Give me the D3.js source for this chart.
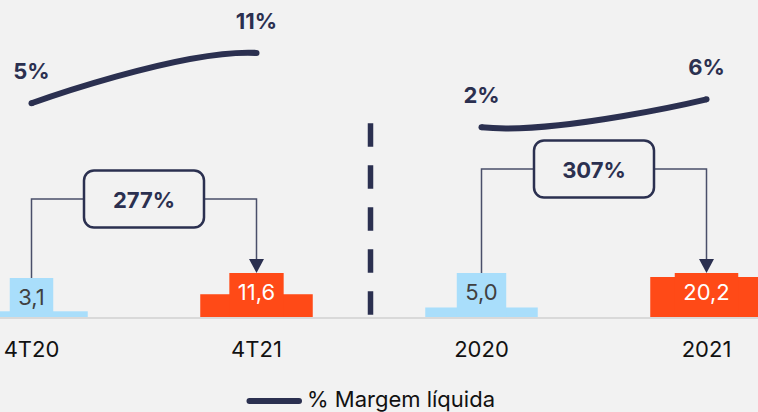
<!DOCTYPE html>
<html>
<head>
<meta charset="utf-8">
<script src="https://cdn.jsdelivr.net/npm/d3@7"></script>
<style>
  body { margin: 0; background: #f2f2f2; }
  svg { display: block; font-family: Inter, 'Noto Sans', sans-serif; }
</style>
</head>
<body>
<svg id="chart" width="758" height="412"></svg>
<script>
const categories = ['4T20', '4T21', '2020', '2021']
const revenue = [3.1, 11.6, 5.0, 20.2]
const barLabels = ['3,1', '11,6', '5,0', '20,2']
const margin = [5.0, 11.3, 2.0, 5.5]
const growthFrom = ['4T20', '2020']
const growthTo = ['4T21', '2021']
const growthLabels = ['277%', '307%']

const navy = '#2b3050'
const colors = ['#a9defb', '#ff4a17', '#a9defb', '#ff4a17']
const textColors = ['#404040', '#ffffff', '#404040', '#ffffff']

let svg = d3.select('#chart')
svg.append('rect').attr('width', 758).attr('height', 412).attr('fill', '#f2f2f2')

let x = d3.scaleBand()
	.domain(categories)
	.range([-81, 819])
	.paddingInner(0.5)
	.paddingOuter(0.25)
let cx = c => x(c) + x.bandwidth() / 2

let baseY = 317.5
let y = d3.scaleLinear().domain([0, 20.2]).range([baseY, 277])
let yPct = d3.scaleLinear().domain([0, 12]).range([143.3, 47.3])

// bars
svg.selectAll('.bar')
	.data(categories)
	.join('rect')
	.attr('class', 'bar')
	.attr('x', d => x(d))
	.attr('width', x.bandwidth())
	.attr('y', (d, i) => y(revenue[i]))
	.attr('height', (d, i) => baseY - y(revenue[i]))
	.attr('fill', (d, i) => colors[i])

// axis
let axis = svg.append('g')
	.attr('transform', `translate(0,${baseY})`)
	.call(d3.axisBottom(x).tickSize(0).tickSizeOuter(0).tickPadding(24))
axis.select('.domain').attr('stroke', '#d9d9d9').attr('stroke-width', 2)
axis.selectAll('text')
	.attr('font-size', 22)
	.attr('fill', '#111')
	.attr('font-family', 'Inter, sans-serif')

// value labels with bar-coloured backgrounds
let labelTop = i => i === 0 ? 278 : 273
categories.forEach((c, i) => {
	let g = svg.append('g')
	let t = g.append('text')
		.attr('x', cx(c))
		.attr('y', labelTop(i) + 26.5)
		.attr('text-anchor', 'middle')
		.attr('font-size', 22)
		.attr('fill', textColors[i])
		.text(barLabels[i])
	let w = t.node().getComputedTextLength() + 17
	g.insert('rect', 'text')
		.attr('x', cx(c) - w / 2)
		.attr('y', labelTop(i))
		.attr('width', w)
		.attr('height', baseY - 1 - labelTop(i))
		.attr('fill', colors[i])
})

// separator
svg.append('line')
	.attr('x1', 370.5).attr('x2', 370.5)
	.attr('y1', 123.3).attr('y2', 315)
	.attr('stroke', navy)
	.attr('stroke-width', 5.5)
	.attr('stroke-dasharray', '23.5 18.5')

// growth brackets
let bracketY = [199, 169]
growthLabels.forEach((lab, k) => {
	let i0 = categories.indexOf(growthFrom[k])
	let i1 = categories.indexOf(growthTo[k])
	let x0 = cx(growthFrom[k]), x1 = cx(growthTo[k])
	let by = bracketY[k]
	svg.append('path')
		.attr('d', `M${x0},${labelTop(i0)}V${by}H${x1}V${labelTop(i1) - 14}`)
		.attr('fill', 'none')
		.attr('stroke', '#4a4f6a')
		.attr('stroke-width', 1.5)
	svg.append('path')
		.attr('d', `M${x1 - 7.5},${labelTop(i1) - 14}L${x1 + 7.5},${labelTop(i1) - 14}L${x1},${labelTop(i1)}Z`)
		.attr('fill', navy)
	let mx = (x0 + x1) / 2
	svg.append('rect')
		.attr('x', mx - 60).attr('y', by - 28.5)
		.attr('width', 120).attr('height', 57)
		.attr('rx', 10)
		.attr('fill', '#f2f2f2')
		.attr('stroke', navy)
		.attr('stroke-width', 2.5)
	svg.append('text')
		.attr('x', mx).attr('y', by + 8.5)
		.attr('text-anchor', 'middle')
		.attr('font-size', 22)
		.attr('font-weight', 700)
		.attr('fill', navy)
		.text(lab)
})

// margin line: one smoothed series, the span across the separator hidden
let pts = categories.map((c, i) => [cx(c), yPct(margin[i])])
let defs = svg.append('defs')
let clip = defs.append('clipPath').attr('id', 'lineclip')
clip.append('rect').attr('x', 0).attr('y', 0).attr('width', pts[1][0]).attr('height', 412)
clip.append('rect').attr('x', pts[2][0]).attr('y', 0).attr('width', 758 - pts[2][0]).attr('height', 412)

svg.append('path')
	.datum(pts)
	.attr('d', d3.line().curve(d3.curveCardinal.tension(0)))
	.attr('fill', 'none')
	.attr('stroke', navy)
	.attr('stroke-width', 6)
	.attr('clip-path', 'url(#lineclip)')
svg.selectAll('.cap')
	.data(pts)
	.join('circle')
	.attr('cx', d => d[0])
	.attr('cy', d => d[1])
	.attr('r', 3)
	.attr('fill', navy)

svg.selectAll('.pct')
	.data(margin)
	.join('text')
	.attr('x', (d, i) => pts[i][0])
	.attr('y', (d, i) => pts[i][1] - 24)
	.attr('text-anchor', 'middle')
	.attr('font-size', 22)
	.attr('font-weight', 700)
	.attr('fill', navy)
	.text(d => Math.round(d) + '%')

// legend
svg.append('line')
	.attr('x1', 249.5).attr('x2', 299)
	.attr('y1', 401).attr('y2', 401)
	.attr('stroke', navy)
	.attr('stroke-width', 6)
	.attr('stroke-linecap', 'round')
svg.append('text')
	.attr('x', 307)
	.attr('y', 407.3)
	.attr('font-size', 22)
	.attr('fill', '#111')
	.text('% Margem líquida')
</script>
</body>
</html>
